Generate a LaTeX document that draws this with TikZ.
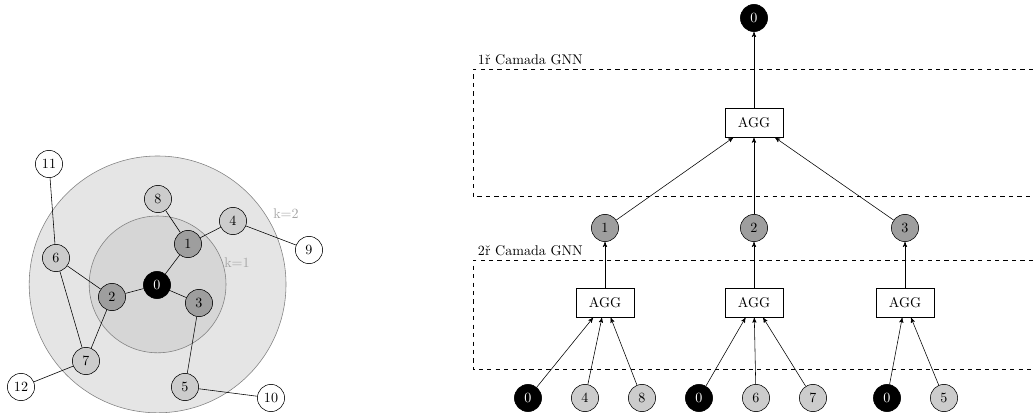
\documentclass[tikz,border=0pt]{standalone}
\usepackage{amsmath}
\usepackage{tikz}
\usetikzlibrary{arrows}

\begin{document}
\begin{tikzpicture}[-,auto,node distance=1.425cm,
                    main node/.style={circle,draw,minimum size=0.68cm,inner sep=0pt},
                    src node/.style={main node,fill=black,text=white},
                    hop1 node/.style={main node,fill=black!38},
                    hop2 node/.style={main node,fill=black!20},
                    far node/.style={main node,fill=white},
                    agg node/.style={rectangle,draw,minimum width=1.45cm,minimum height=0.72cm},
                    ring/.style={draw=black!50},
                    layer box/.style={dashed},
                    layer label/.style={anchor=south west}]

  \useasboundingbox (0,0) rectangle (25.825,10.3);

  % vizinhanca de k saltos
  \draw[ring,fill=black!10] (3.94,3.19) circle (3.21cm);
  \draw[ring,fill=black!16] (3.94,3.19) circle (1.71cm);
  \node[text=black!35] (k2) at (7.15,4.95) {k=2};
  \node[text=black!35] (k1) at (5.925,3.725) {k=1};

  \node[src node] (0) at (3.925,3.175) {0};
  \node[hop1 node] (1) at (4.70,4.20) {1};
  \node[hop1 node] (2) at (2.80,2.875) {2};
  \node[hop1 node] (3) at (4.975,2.725) {3};
  \node[hop2 node] (4) at (5.825,4.775) {4};
  \node[hop2 node] (5) at (4.625,0.625) {5};
  \node[hop2 node] (6) at (1.40,3.85) {6};
  \node[hop2 node] (7) at (2.15,1.275) {7};
  \node[hop2 node] (8) at (3.95,5.325) {8};
  \node[far node] (9) at (7.725,4.05) {9};
  \node[far node] (10) at (6.775,0.35) {10};
  \node[far node] (11) at (1.225,6.20) {11};
  \node[far node] (12) at (0.525,0.625) {12};

  \path
    (0) edge (1)
    (0) edge (2)
    (0) edge (3)
    (1) edge (8)
    (1) edge (4)
    (4) edge (9)
    (2) edge (6)
    (2) edge (7)
    (6) edge (7)
    (6) edge (11)
    (7) edge (12)
    (3) edge (5)
    (5) edge (10);

  % camadas
  \draw[layer box] (25.825,8.5675) -- (11.825,8.5675) -- (11.825,5.3875) -- (25.825,5.3875);
  \draw[layer box] (25.825,3.7875) -- (11.825,3.7875) -- (11.825,1.0625) -- (25.825,1.0625);
  \node[layer label] (lab1) at (11.825,8.5675) {1ř Camada GNN};
  \node[layer label] (lab2) at (11.825,3.7875) {2ř Camada GNN};

  \node[src node] (r0) at (18.85,9.85) {0};
  \node[agg node] (agg0) at (18.85,7.225) {AGG};

  \node[hop1 node] (r1) at (15.125,4.6) {1};
  \node[hop1 node] (r2) at (18.85,4.6) {2};
  \node[hop1 node] (r3) at (22.625,4.6) {3};

  \node[agg node] (agg1) at (15.125,2.725) {AGG};
  \node[agg node] (agg2) at (18.85,2.725) {AGG};
  \node[agg node] (agg3) at (22.625,2.725) {AGG};

  \node[src node] (b10) at (13.2,0.35) {0};
  \node[hop2 node] (b4) [right of=b10] {4};
  \node[hop2 node] (b8) [right of=b4] {8};
  \node[src node] (b20) [right of=b8] {0};
  \node[hop2 node] (b6) [right of=b20] {6};
  \node[hop2 node] (b7) [right of=b6] {7};
  \node[src node] (b30) at (22.175,0.35) {0};
  \node[hop2 node] (b5) [right of=b30] {5};

  \path[->,>=stealth']
    (agg0) edge (r0)
    (r1) edge (agg0)
    (r2) edge (agg0)
    (r3) edge (agg0)
    (agg1) edge (r1)
    (agg2) edge (r2)
    (agg3) edge (r3)
    (b10) edge (agg1)
    (b4) edge (agg1)
    (b8) edge (agg1)
    (b20) edge (agg2)
    (b6) edge (agg2)
    (b7) edge (agg2)
    (b30) edge (agg3)
    (b5) edge (agg3);
\end{tikzpicture}
\end{document}
